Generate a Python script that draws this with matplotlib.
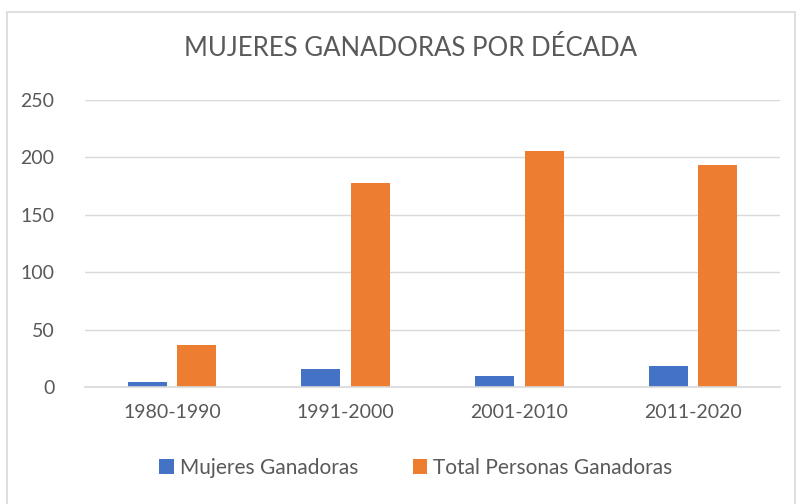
import matplotlib.pyplot as plt
import numpy as np
from matplotlib.patches import Rectangle

plt.rcParams['font.family'] = ['Lato', 'DejaVu Sans']

decadas = ['1980-1990', '1991-2000', '2001-2010', '2011-2020']
mujeres = [4, 16, 10, 18]
total = [37, 178, 206, 193]

gris = '#595959'
azul = '#4472C4'
naranja = '#ED7D31'

fig = plt.figure(figsize=(8.07, 5.04), dpi=100)
# marco del gráfico
fig.patches.append(Rectangle((7 / 807, -0.05), 788 / 807, 1.05 - 12 / 504,
                             transform=fig.transFigure, fill=False,
                             edgecolor='#D9D9D9', linewidth=1.2))

ax = fig.add_axes([85 / 807, 1 - 387 / 504, 695 / 807, 287 / 504])

x = np.arange(len(decadas))
w = 0.224
sep = 0.0605
ax.bar(x - (w + sep) / 2, mujeres, w, color=azul, label='Mujeres Ganadoras')
ax.bar(x + (w + sep) / 2, total, w, color=naranja, label='Total Personas Ganadoras')

ax.set_xlim(-0.5, len(decadas) - 0.5)
ax.set_ylim(0, 250)
ax.set_yticks(range(0, 251, 50))
ax.set_xticks(x)
ax.set_xticklabels(decadas)
ax.grid(axis='y', color='#D9D9D9', linewidth=1)
ax.set_axisbelow(True)
for s in ['top', 'right', 'left']:
    ax.spines[s].set_visible(False)
ax.spines['bottom'].set_color('#D9D9D9')
ax.spines['bottom'].set_linewidth(1.2)
ax.tick_params(axis='both', length=0, labelsize=14, labelcolor=gris)
ax.tick_params(axis='y', pad=22)
ax.tick_params(axis='x', pad=12)

fig.text(410 / 807, 1 - 48 / 504, 'MUJERES GANADORAS POR DÉCADA', ha='center', va='center',
         fontsize=18.5, color=gris)

fig.legend(loc='center', bbox_to_anchor=(416 / 807, 1 - 468 / 504), ncol=2, frameon=False,
           fontsize=15, labelcolor=gris, handlelength=0.7, handleheight=0.7,
           handletextpad=0.3, columnspacing=2.6)

plt.savefig('out.png', dpi=100)
